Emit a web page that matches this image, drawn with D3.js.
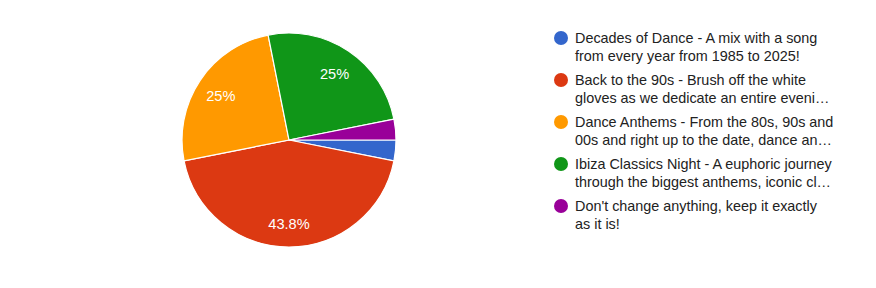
<!DOCTYPE html>
<html><head><meta charset="utf-8">
<script src="https://cdn.jsdelivr.net/npm/d3@7"></script>
<style>body{margin:0;background:#fff}svg{display:block}</style>
</head><body>
<svg id="c" width="876" height="288"></svg>
<script>
const categories = [
  ["Decades of Dance - A mix with a song", "from every year from 1985 to 2025!"],
  ["Back to the 90s - Brush off the white", "gloves as we dedicate an entire eveni\u2026"],
  ["Dance Anthems - From the 80s, 90s and", "00s and right up to the date, dance an\u2026"],
  ["Ibiza Classics Night - A euphoric journey", "through the biggest anthems, iconic cl\u2026"],
  ["Don't change anything, keep it exactly", "as it is!"]
];
const counts = [1, 14, 8, 8, 1];
const colors = ["#3366cc", "#dc3912", "#ff9900", "#109618", "#990099"];

const svg = d3.select("#c");
const cx = 289, cy = 140, r = 107;
const total = d3.sum(counts);
const pie = d3.pie().sort(null).value(d => d)
  .startAngle(Math.PI / 2).endAngle(Math.PI / 2 + 2 * Math.PI);
const arcs = pie(counts);
const arc = d3.arc().innerRadius(0).outerRadius(r);
const labelArc = d3.arc().innerRadius(82).outerRadius(82);
const g = svg.append("g").attr("transform", `translate(${cx},${cy})`);
g.selectAll("path").data(arcs).join("path")
  .attr("d", arc).attr("fill", (d, i) => colors[i])
  .attr("stroke", "#fff").attr("stroke-width", 1.2);
const fmt = v => { const p = Math.round(v / total * 1000) / 10; return p + "%"; };
g.selectAll("text").data(arcs.filter(d => d.value / total > 0.05)).join("text")
  .attr("transform", d => `translate(${labelArc.centroid(d)})`)
  .attr("text-anchor", "middle").attr("dy", "0.48em")
  .attr("fill", "#fff").attr("font-family", "Liberation Sans, Arial, sans-serif")
  .attr("font-size", 14.6).text(d => fmt(d.value));

const leg = svg.append("g").attr("transform", "translate(561,38)");
const items = leg.selectAll("g").data(categories).join("g")
  .attr("transform", (d, i) => `translate(0,${i * 42})`);
items.append("circle").attr("r", 7).attr("fill", (d, i) => colors[i]);
items.each(function(d) {
  const t = d3.select(this).append("text")
    .attr("font-family", "Liberation Sans, Arial, sans-serif").attr("font-size", 14.4)
    .attr("fill", "#222");
  d.forEach((line, j) => t.append("tspan").attr("x", 14).attr("y", j * 18 + 5).text(line));
});
</script>
</body></html>
